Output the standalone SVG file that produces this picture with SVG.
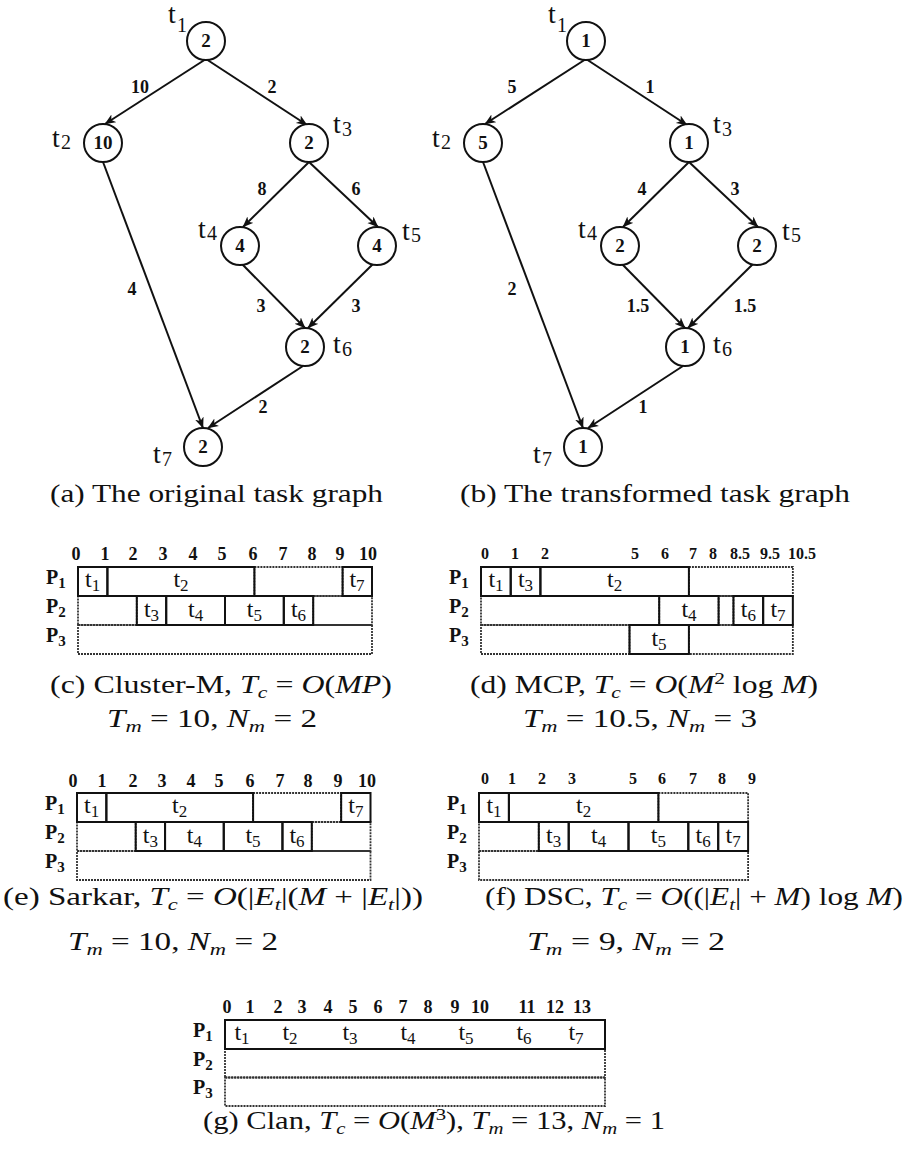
<svg xmlns="http://www.w3.org/2000/svg" width="911" height="1159" viewBox="0 0 911 1159">
<style>
text{font-family:"Liberation Serif","Times New Roman",serif;fill:#111}
.n{fill:#fff;stroke:#111;stroke-width:2}
.nw{font-size:19px;font-weight:bold;text-anchor:middle}
.tl{font-size:28px}
.ts{font-size:20px}
.el{font-size:18px;font-weight:bold;text-anchor:middle}
.e{stroke:#111;stroke-width:2;fill:none;marker-end:url(#ah)}
.task{fill:none;stroke:#111;stroke-width:2}
.idle{fill:none;stroke:#333;stroke-width:1.8;stroke-dasharray:2 1}
.ax{font-size:18px;font-weight:bold;text-anchor:middle}
.ax2{font-size:16px;font-weight:bold;text-anchor:middle}
.pl{font-size:20px;font-weight:bold}
.pls{font-size:15px}
.gl{font-size:24px;text-anchor:middle}
.gs{font-size:17px}
.cap{font-size:25px}
.i{font-style:italic}
.s{font-size:17px}
</style>
<defs>
<marker id="ah" markerUnits="userSpaceOnUse" markerWidth="12" markerHeight="10" refX="10.5" refY="4.5" orient="auto">
<path d="M0,0 L11,4.5 L0,9 L3,4.5 z" fill="#111"/>
</marker>
</defs>

<!-- Graph (a) -->
<g id="a-edges">
<line class="e" x1="206" y1="59" x2="105" y2="124"/>
<line class="e" x1="206" y1="59" x2="307" y2="125"/>
<line class="e" x1="103" y1="162" x2="203" y2="428"/>
<line class="e" x1="309" y1="162" x2="243" y2="227"/>
<line class="e" x1="309" y1="162" x2="378" y2="227"/>
<line class="e" x1="242" y1="264" x2="305" y2="328"/>
<line class="e" x1="373" y1="264" x2="308" y2="328"/>
<line class="e" x1="303" y1="366" x2="208" y2="428"/>
<text class="el" x="140" y="93">10</text>
<text class="el" x="272" y="93">2</text>
<text class="el" x="262" y="195">8</text>
<text class="el" x="356" y="195">6</text>
<text class="el" x="132" y="295">4</text>
<text class="el" x="261" y="312">3</text>
<text class="el" x="356" y="312">3</text>
<text class="el" x="263" y="413">2</text>
</g>
<g id="a-t1"><circle class="n" cx="206" cy="41" r="19"/><text class="nw" x="206" y="47">2</text><text class="tl" x="168" y="23">t</text><text class="ts" x="177" y="32">1</text></g>
<g id="a-t2"><circle class="n" cx="103" cy="143" r="19"/><text class="nw" x="103" y="149">10</text><text class="tl" x="52" y="147">t</text><text class="ts" x="61" y="149">2</text></g>
<g id="a-t3"><circle class="n" cx="309" cy="143" r="19"/><text class="nw" x="309" y="149">2</text><text class="tl" x="333" y="133">t</text><text class="ts" x="342" y="136">3</text></g>
<g id="a-t4"><circle class="n" cx="240" cy="246" r="19"/><text class="nw" x="240" y="252">4</text><text class="tl" x="198" y="238">t</text><text class="ts" x="207" y="240">4</text></g>
<g id="a-t5"><circle class="n" cx="377" cy="246" r="19"/><text class="nw" x="377" y="252">4</text><text class="tl" x="402" y="240">t</text><text class="ts" x="411" y="242">5</text></g>
<g id="a-t6"><circle class="n" cx="305" cy="347" r="19"/><text class="nw" x="305" y="353">2</text><text class="tl" x="333" y="353">t</text><text class="ts" x="342" y="356">6</text></g>
<g id="a-t7"><circle class="n" cx="203" cy="447" r="19"/><text class="nw" x="203" y="453">2</text><text class="tl" x="153" y="463">t</text><text class="ts" x="162" y="466">7</text></g>

<!-- Graph (b) -->
<g id="b-edges">
<line class="e" x1="586" y1="59" x2="485" y2="124"/>
<line class="e" x1="586" y1="59" x2="687" y2="125"/>
<line class="e" x1="483" y1="162" x2="583" y2="428"/>
<line class="e" x1="689" y1="162" x2="623" y2="227"/>
<line class="e" x1="689" y1="162" x2="758" y2="227"/>
<line class="e" x1="622" y1="264" x2="685" y2="328"/>
<line class="e" x1="753" y1="264" x2="688" y2="328"/>
<line class="e" x1="683" y1="366" x2="588" y2="428"/>
<text class="el" x="512" y="93">5</text>
<text class="el" x="650" y="93">1</text>
<text class="el" x="642" y="195">4</text>
<text class="el" x="735" y="195">3</text>
<text class="el" x="512" y="295">2</text>
<text class="el" x="638" y="312">1.5</text>
<text class="el" x="745" y="312">1.5</text>
<text class="el" x="643" y="413">1</text>
</g>
<g id="b-t1"><circle class="n" cx="586" cy="41" r="19"/><text class="nw" x="586" y="47">1</text><text class="tl" x="548" y="23">t</text><text class="ts" x="557" y="32">1</text></g>
<g id="b-t2"><circle class="n" cx="483" cy="143" r="19"/><text class="nw" x="483" y="149">5</text><text class="tl" x="432" y="147">t</text><text class="ts" x="441" y="149">2</text></g>
<g id="b-t3"><circle class="n" cx="689" cy="143" r="19"/><text class="nw" x="689" y="149">1</text><text class="tl" x="713" y="133">t</text><text class="ts" x="722" y="136">3</text></g>
<g id="b-t4"><circle class="n" cx="620" cy="246" r="19"/><text class="nw" x="620" y="252">2</text><text class="tl" x="578" y="238">t</text><text class="ts" x="587" y="240">4</text></g>
<g id="b-t5"><circle class="n" cx="757" cy="246" r="19"/><text class="nw" x="757" y="252">2</text><text class="tl" x="782" y="240">t</text><text class="ts" x="791" y="242">5</text></g>
<g id="b-t6"><circle class="n" cx="685" cy="347" r="19"/><text class="nw" x="685" y="353">1</text><text class="tl" x="713" y="353">t</text><text class="ts" x="722" y="356">6</text></g>
<g id="b-t7"><circle class="n" cx="583" cy="447" r="19"/><text class="nw" x="583" y="453">1</text><text class="tl" x="533" y="463">t</text><text class="ts" x="542" y="466">7</text></g>

<text class="cap" x="50" y="502" textLength="333" lengthAdjust="spacingAndGlyphs">(a) The original task graph</text>
<text class="cap" x="460" y="502" textLength="390" lengthAdjust="spacingAndGlyphs">(b) The transformed task graph</text>

<!-- Gantt (c) -->
<g id="gantt-c">
<text class="ax" x="76" y="560">0</text><text class="ax" x="105" y="560">1</text><text class="ax" x="133" y="560">2</text><text class="ax" x="163" y="560">3</text><text class="ax" x="193" y="560">4</text><text class="ax" x="222" y="560">5</text><text class="ax" x="253" y="560">6</text><text class="ax" x="283" y="560">7</text><text class="ax" x="312" y="560">8</text><text class="ax" x="340" y="560">9</text><text class="ax" x="368" y="560">10</text>
<rect class="idle" x="254.4" y="567" width="88.2" height="29"/>
<rect class="idle" x="78" y="596" width="58.8" height="29"/>
<rect class="idle" x="313.2" y="596" width="58.8" height="29"/>
<rect class="idle" x="78" y="625" width="294" height="29"/>
<rect class="task" x="78" y="567" width="29.4" height="29"/>
<rect class="task" x="107.4" y="567" width="147" height="29"/>
<rect class="task" x="342.6" y="567" width="29.4" height="29"/>
<rect class="task" x="136.8" y="596" width="29.4" height="29"/>
<rect class="task" x="166.2" y="596" width="58.8" height="29"/>
<rect class="task" x="225" y="596" width="58.8" height="29"/>
<rect class="task" x="283.8" y="596" width="29.4" height="29"/>
<text class="pl" x="46" y="584">P<tspan class="pls" dy="4">1</tspan></text>
<text class="pl" x="46" y="613">P<tspan class="pls" dy="4">2</tspan></text>
<text class="pl" x="46" y="642">P<tspan class="pls" dy="4">3</tspan></text>
<text class="gl" x="92.7" y="587">t<tspan class="gs" dy="4">1</tspan></text>
<text class="gl" x="181" y="587">t<tspan class="gs" dy="4">2</tspan></text>
<text class="gl" x="357" y="587">t<tspan class="gs" dy="4">7</tspan></text>
<text class="gl" x="151.5" y="617">t<tspan class="gs" dy="4">3</tspan></text>
<text class="gl" x="195.6" y="617">t<tspan class="gs" dy="4">4</tspan></text>
<text class="gl" x="254.4" y="617">t<tspan class="gs" dy="4">5</tspan></text>
<text class="gl" x="298.5" y="617">t<tspan class="gs" dy="4">6</tspan></text>
</g>
<text class="cap" x="50" y="693" textLength="342" lengthAdjust="spacingAndGlyphs">(c) Cluster-M, <tspan class="i">T</tspan><tspan class="i s" dy="5">c</tspan><tspan dy="-5"> = </tspan><tspan class="i">O</tspan>(<tspan class="i">MP</tspan>)</text>
<text class="cap" x="107" y="727" textLength="210" lengthAdjust="spacingAndGlyphs"><tspan class="i">T</tspan><tspan class="i s" dy="5">m</tspan><tspan dy="-5"> = 10, </tspan><tspan class="i">N</tspan><tspan class="i s" dy="5">m</tspan><tspan dy="-5"> = 2</tspan></text>

<!-- Gantt (d) -->
<g id="gantt-d">
<text class="ax2" x="485" y="559">0</text><text class="ax2" x="515" y="559">1</text><text class="ax2" x="545" y="559">2</text><text class="ax2" x="635" y="559">5</text><text class="ax2" x="665" y="559">6</text><text class="ax2" x="693" y="559">7</text><text class="ax2" x="713" y="559">8</text><text class="ax2" x="740" y="559">8.5</text><text class="ax2" x="770" y="559">9.5</text><text class="ax2" x="802" y="559">10.5</text>
<rect class="idle" x="688.9" y="567" width="103.95" height="29"/>
<rect class="idle" x="481" y="596" width="178.2" height="29"/>
<rect class="idle" x="718.6" y="596" width="14.85" height="29"/>
<rect class="idle" x="481" y="625" width="148.5" height="29"/>
<rect class="idle" x="688.9" y="625" width="103.95" height="29"/>
<rect class="task" x="481" y="567" width="29.7" height="29"/>
<rect class="task" x="510.7" y="567" width="29.7" height="29"/>
<rect class="task" x="540.4" y="567" width="148.5" height="29"/>
<rect class="task" x="659.2" y="596" width="59.4" height="29"/>
<rect class="task" x="733.45" y="596" width="29.7" height="29"/>
<rect class="task" x="763.15" y="596" width="29.7" height="29"/>
<rect class="task" x="629.5" y="625" width="59.4" height="29"/>
<text class="pl" x="449" y="584">P<tspan class="pls" dy="4">1</tspan></text>
<text class="pl" x="449" y="613">P<tspan class="pls" dy="4">2</tspan></text>
<text class="pl" x="449" y="642">P<tspan class="pls" dy="4">3</tspan></text>
<text class="gl" x="496" y="587">t<tspan class="gs" dy="4">1</tspan></text>
<text class="gl" x="525.5" y="587">t<tspan class="gs" dy="4">3</tspan></text>
<text class="gl" x="614.6" y="587">t<tspan class="gs" dy="4">2</tspan></text>
<text class="gl" x="689" y="617">t<tspan class="gs" dy="4">4</tspan></text>
<text class="gl" x="748.3" y="617">t<tspan class="gs" dy="4">6</tspan></text>
<text class="gl" x="778" y="617">t<tspan class="gs" dy="4">7</tspan></text>
<text class="gl" x="659" y="646">t<tspan class="gs" dy="4">5</tspan></text>
</g>
<text class="cap" x="470" y="693" textLength="348" lengthAdjust="spacingAndGlyphs">(d) MCP, <tspan class="i">T</tspan><tspan class="i s" dy="5">c</tspan><tspan dy="-5"> = </tspan><tspan class="i">O</tspan>(<tspan class="i">M</tspan><tspan class="s" dy="-9">2</tspan><tspan dy="9"> log </tspan><tspan class="i">M</tspan>)</text>
<text class="cap" x="523" y="727" textLength="234" lengthAdjust="spacingAndGlyphs"><tspan class="i">T</tspan><tspan class="i s" dy="5">m</tspan><tspan dy="-5"> = 10.5, </tspan><tspan class="i">N</tspan><tspan class="i s" dy="5">m</tspan><tspan dy="-5"> = 3</tspan></text>

<!-- Gantt (e) -->
<g id="gantt-e">
<text class="ax" x="73" y="787">0</text><text class="ax" x="102" y="787">1</text><text class="ax" x="133" y="787">2</text><text class="ax" x="162" y="787">3</text><text class="ax" x="191" y="787">4</text><text class="ax" x="219" y="787">5</text><text class="ax" x="250" y="787">6</text><text class="ax" x="280" y="787">7</text><text class="ax" x="308" y="787">8</text><text class="ax" x="338" y="787">9</text><text class="ax" x="367" y="787">10</text>
<rect class="idle" x="253.1" y="793" width="88.05" height="29"/>
<rect class="idle" x="77" y="822" width="58.7" height="29"/>
<rect class="idle" x="311.8" y="822" width="58.7" height="29"/>
<rect class="idle" x="77" y="851" width="293.5" height="29"/>
<rect class="task" x="77" y="793" width="29.35" height="29"/>
<rect class="task" x="106.35" y="793" width="146.75" height="29"/>
<rect class="task" x="341.15" y="793" width="29.35" height="29"/>
<rect class="task" x="135.7" y="822" width="29.35" height="29"/>
<rect class="task" x="165.05" y="822" width="58.7" height="29"/>
<rect class="task" x="223.75" y="822" width="58.7" height="29"/>
<rect class="task" x="282.45" y="822" width="29.35" height="29"/>
<text class="pl" x="45" y="810">P<tspan class="pls" dy="4">1</tspan></text>
<text class="pl" x="45" y="839">P<tspan class="pls" dy="4">2</tspan></text>
<text class="pl" x="45" y="868">P<tspan class="pls" dy="4">3</tspan></text>
<text class="gl" x="91.7" y="813">t<tspan class="gs" dy="4">1</tspan></text>
<text class="gl" x="179.7" y="813">t<tspan class="gs" dy="4">2</tspan></text>
<text class="gl" x="355.8" y="813">t<tspan class="gs" dy="4">7</tspan></text>
<text class="gl" x="150.4" y="843">t<tspan class="gs" dy="4">3</tspan></text>
<text class="gl" x="194.4" y="843">t<tspan class="gs" dy="4">4</tspan></text>
<text class="gl" x="253" y="843">t<tspan class="gs" dy="4">5</tspan></text>
<text class="gl" x="297" y="843">t<tspan class="gs" dy="4">6</tspan></text>
</g>
<text class="cap" x="3" y="905" textLength="420" lengthAdjust="spacingAndGlyphs">(e) Sarkar, <tspan class="i">T</tspan><tspan class="i s" dy="5">c</tspan><tspan dy="-5"> = </tspan><tspan class="i">O</tspan>(|<tspan class="i">E</tspan><tspan class="i s" dy="5">t</tspan><tspan dy="-5">|(</tspan><tspan class="i">M</tspan> + |<tspan class="i">E</tspan><tspan class="i s" dy="5">t</tspan><tspan dy="-5">|))</tspan></text>
<text class="cap" x="68" y="950" textLength="210" lengthAdjust="spacingAndGlyphs"><tspan class="i">T</tspan><tspan class="i s" dy="5">m</tspan><tspan dy="-5"> = 10, </tspan><tspan class="i">N</tspan><tspan class="i s" dy="5">m</tspan><tspan dy="-5"> = 2</tspan></text>

<!-- Gantt (f) -->
<g id="gantt-f">
<text class="ax2" x="485" y="784">0</text><text class="ax2" x="512" y="784">1</text><text class="ax2" x="542" y="784">2</text><text class="ax2" x="572" y="784">3</text><text class="ax2" x="633" y="784">5</text><text class="ax2" x="662" y="784">6</text><text class="ax2" x="693" y="784">7</text><text class="ax2" x="722" y="784">8</text><text class="ax2" x="752" y="784">9</text>
<rect class="idle" x="658.4" y="793" width="89.7" height="29"/>
<rect class="idle" x="479" y="822" width="59.8" height="29"/>
<rect class="idle" x="479" y="851" width="269.1" height="29"/>
<rect class="task" x="479" y="793" width="29.9" height="29"/>
<rect class="task" x="508.9" y="793" width="149.5" height="29"/>
<rect class="task" x="538.8" y="822" width="29.9" height="29"/>
<rect class="task" x="568.7" y="822" width="59.8" height="29"/>
<rect class="task" x="628.5" y="822" width="59.8" height="29"/>
<rect class="task" x="688.3" y="822" width="29.9" height="29"/>
<rect class="task" x="718.2" y="822" width="29.9" height="29"/>
<text class="pl" x="447" y="810">P<tspan class="pls" dy="4">1</tspan></text>
<text class="pl" x="447" y="839">P<tspan class="pls" dy="4">2</tspan></text>
<text class="pl" x="447" y="868">P<tspan class="pls" dy="4">3</tspan></text>
<text class="gl" x="494" y="813">t<tspan class="gs" dy="4">1</tspan></text>
<text class="gl" x="583.6" y="813">t<tspan class="gs" dy="4">2</tspan></text>
<text class="gl" x="553.7" y="843">t<tspan class="gs" dy="4">3</tspan></text>
<text class="gl" x="598.6" y="843">t<tspan class="gs" dy="4">4</tspan></text>
<text class="gl" x="658.4" y="843">t<tspan class="gs" dy="4">5</tspan></text>
<text class="gl" x="703.2" y="843">t<tspan class="gs" dy="4">6</tspan></text>
<text class="gl" x="733.1" y="843">t<tspan class="gs" dy="4">7</tspan></text>
</g>
<text class="cap" x="485" y="905" textLength="418" lengthAdjust="spacingAndGlyphs">(f) DSC, <tspan class="i">T</tspan><tspan class="i s" dy="5">c</tspan><tspan dy="-5"> = </tspan><tspan class="i">O</tspan>((|<tspan class="i">E</tspan><tspan class="i s" dy="5">t</tspan><tspan dy="-5">| + </tspan><tspan class="i">M</tspan>) log <tspan class="i">M</tspan>)</text>
<text class="cap" x="527" y="950" textLength="198" lengthAdjust="spacingAndGlyphs"><tspan class="i">T</tspan><tspan class="i s" dy="5">m</tspan><tspan dy="-5"> = 9, </tspan><tspan class="i">N</tspan><tspan class="i s" dy="5">m</tspan><tspan dy="-5"> = 2</tspan></text>

<!-- Gantt (g) -->
<g id="gantt-g">
<text class="ax" x="227" y="1013">0</text><text class="ax" x="250" y="1013">1</text><text class="ax" x="278" y="1013">2</text><text class="ax" x="302" y="1013">3</text><text class="ax" x="328" y="1013">4</text><text class="ax" x="353" y="1013">5</text><text class="ax" x="378" y="1013">6</text><text class="ax" x="403" y="1013">7</text><text class="ax" x="428" y="1013">8</text><text class="ax" x="455" y="1013">9</text><text class="ax" x="480" y="1013">10</text><text class="ax" x="527" y="1013">11</text><text class="ax" x="555" y="1013">12</text><text class="ax" x="582" y="1013">13</text>
<rect class="idle" x="225" y="1049" width="380" height="28.5"/>
<rect class="idle" x="225" y="1077.5" width="380" height="28.5"/>
<rect class="task" x="225" y="1020" width="380" height="29"/>
<text class="pl" x="193" y="1037">P<tspan class="pls" dy="4">1</tspan></text>
<text class="pl" x="193" y="1066">P<tspan class="pls" dy="4">2</tspan></text>
<text class="pl" x="193" y="1094">P<tspan class="pls" dy="4">3</tspan></text>
<text class="gl" x="242" y="1040">t<tspan class="gs" dy="4">1</tspan></text>
<text class="gl" x="290" y="1040">t<tspan class="gs" dy="4">2</tspan></text>
<text class="gl" x="350" y="1040">t<tspan class="gs" dy="4">3</tspan></text>
<text class="gl" x="408" y="1040">t<tspan class="gs" dy="4">4</tspan></text>
<text class="gl" x="466" y="1040">t<tspan class="gs" dy="4">5</tspan></text>
<text class="gl" x="524" y="1040">t<tspan class="gs" dy="4">6</tspan></text>
<text class="gl" x="576" y="1040">t<tspan class="gs" dy="4">7</tspan></text>
</g>
<text class="cap" x="203" y="1129" textLength="462" lengthAdjust="spacingAndGlyphs">(g) Clan, <tspan class="i">T</tspan><tspan class="i s" dy="5">c</tspan><tspan dy="-5"> = </tspan><tspan class="i">O</tspan>(<tspan class="i">M</tspan><tspan class="s" dy="-9">3</tspan><tspan dy="9">), </tspan><tspan class="i">T</tspan><tspan class="i s" dy="5">m</tspan><tspan dy="-5"> = 13, </tspan><tspan class="i">N</tspan><tspan class="i s" dy="5">m</tspan><tspan dy="-5"> = 1</tspan></text>
</svg>
